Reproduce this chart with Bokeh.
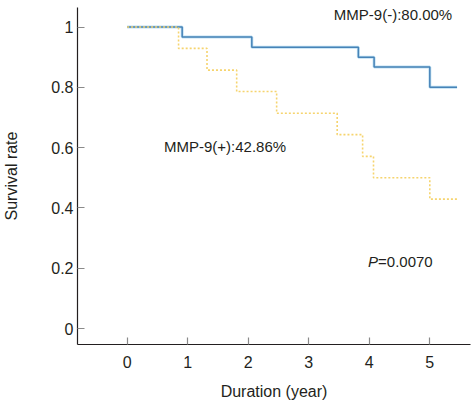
from bokeh.plotting import figure
from bokeh.models import Range1d, FixedTicker, Label
from bokeh.embed import file_html
from bokeh.resources import INLINE

# ---- data ----
neg_time = [0, 0.91, 2.06, 3.82, 4.08, 5.0, 5.45]
neg_surv = [1.0, 0.967, 0.933, 0.900, 0.867, 0.800, 0.800]
pos_time = [0, 0.85, 1.32, 1.81, 2.47, 3.47, 3.89, 4.07, 5.0, 5.45]
pos_surv = [1.0, 0.929, 0.857, 0.786, 0.714, 0.643, 0.571, 0.500, 0.429, 0.429]

x_ticks = [0, 1, 2, 3, 4, 5]
y_ticks = [0, 0.2, 0.4, 0.6, 0.8, 1.0]
y_tick_labels = ["0", "0.2", "0.4", "0.6", "0.8", "1"]

neg_label = "MMP-9(-):80.00%"
pos_label = "MMP-9(+):42.86%"
p_label_italic = "P"
p_label_value = "=0.0070"

FONT = "Liberation Sans"
TXT = "#231f20"

p = figure(width=474, height=403, output_backend="svg", toolbar_location=None,
           x_range=Range1d(-0.819, 5.672), y_range=Range1d(-0.053, 1.0647),
           min_border_left=76, min_border_right=4, min_border_top=7,
           min_border_bottom=59)
p.outline_line_color = None
p.xgrid.visible = False
p.ygrid.visible = False
p.background_fill_color = "white"
p.border_fill_color = "white"

# curves
p.step(neg_time, neg_surv, mode="after", line_color="#bfe0f3", line_width=3.0)
p.step(neg_time, neg_surv, mode="after", line_color="#4783b7", line_width=1.5)
p.step(pos_time, pos_surv, mode="after", line_color="#f6d46e", line_width=1.6,
       line_dash="2 2")

for ax in (p.xaxis[0], p.yaxis[0]):
    ax.axis_line_color = TXT
    ax.axis_line_width = 1.2
    ax.major_tick_line_color = "#8a8a8a"
    ax.major_tick_line_width = 1.2
    ax.major_tick_in = 7
    ax.major_tick_out = 0
    ax.minor_tick_line_color = None
    ax.major_label_text_font = FONT
    ax.major_label_text_font_size = "16px"
    ax.major_label_text_color = TXT
    ax.axis_label_text_font = FONT
    ax.axis_label_text_font_size = "16px"
    ax.axis_label_text_font_style = "normal"
    ax.axis_label_text_color = TXT

p.xaxis.ticker = FixedTicker(ticks=x_ticks)
p.yaxis.ticker = FixedTicker(ticks=y_ticks)
p.yaxis.major_label_overrides = {t: s for t, s in zip(y_ticks, y_tick_labels)}
p.xaxis.axis_label = "Duration (year)"
p.yaxis.axis_label = "Survival rate"
p.xaxis.major_label_standoff = 11
p.xaxis.axis_label_standoff = 12
p.yaxis.major_label_standoff = 4
p.yaxis.axis_label_standoff = 28

def add_label(x, y, text, style="normal", x_offset=0):
    p.add_layout(Label(x=x, y=y, text=text, text_font=FONT,
                       text_font_size="15px", text_color=TXT,
                       text_font_style=style, text_align="left",
                       text_baseline="middle", x_offset=x_offset))

add_label(3.415, 1.0415, neg_label)
add_label(0.61, 0.605, pos_label)
add_label(3.98, 0.222, p_label_italic, style="italic")
add_label(3.98, 0.222, p_label_value, x_offset=10)

open("out.html", "w").write(file_html(p, INLINE))
